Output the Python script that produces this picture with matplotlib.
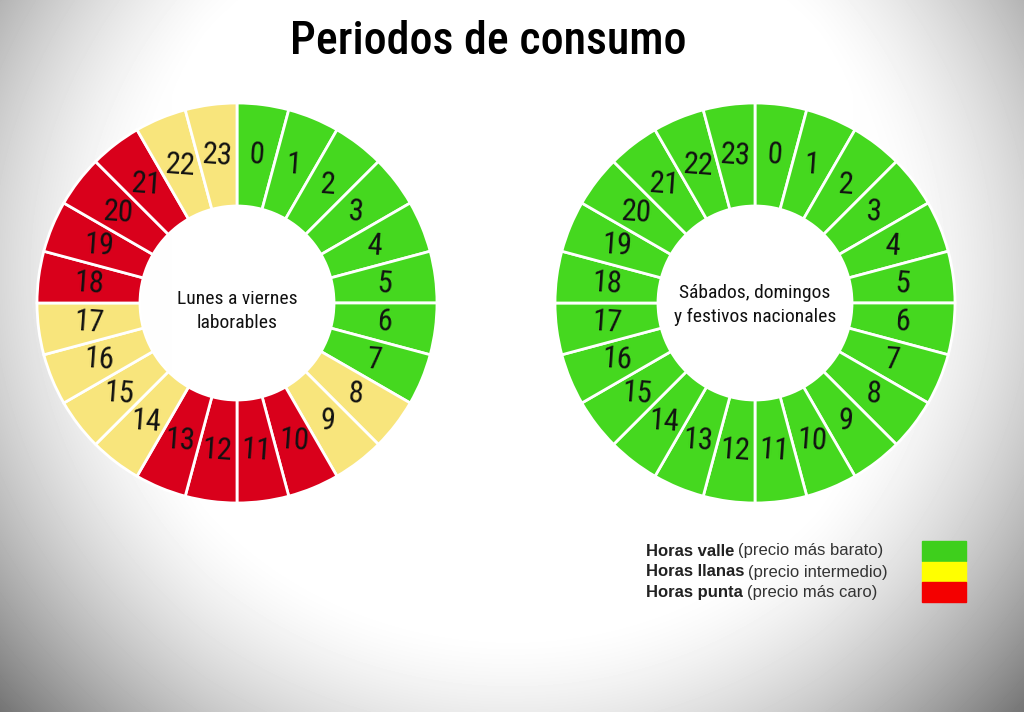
import numpy as np
import matplotlib.pyplot as plt

# franjas horarias (0..23)
horas = [str(h) for h in range(24)]
periodo_laborable = (["valle"] * 8 + ["llano"] * 2 + ["punta"] * 4 +
                     ["llano"] * 4 + ["punta"] * 4 + ["llano"] * 2)
periodo_finde = ["valle"] * 24

COLORES = {"valle": "#45d81f", "llano": "#f8e57c", "punta": "#d9001b"}
COLORES_LEYENDA = {"valle": "#3ecf1c", "llano": "#ffff00", "punta": "#f40000"}

titulo_centro = ["Lunes a viernes\nlaborables",
                 "Sábados, domingos\ny festivos nacionales"]
leyenda_negrita = ["Horas valle", "Horas llanas", "Horas punta"]
leyenda_normal = ["(precio más barato)", "(precio intermedio)", "(precio más caro)"]
leyenda_clave = ["valle", "llano", "punta"]

ESTRECHA = ["Roboto Condensed", "Roboto", "DejaVu Sans"]

W, H = 1024, 712
fig = plt.figure(figsize=(W / 100, H / 100), dpi=100)

# fondo con viñeta
bg = fig.add_axes([0, 0, 1, 1], zorder=-10)
yy, xx = np.mgrid[0:H, 0:W]
u = (xx - W / 2) / (W / 2)
v = (yy - H * 0.38) / (H / 2)
r = np.sqrt(u ** 2 + (v * 0.75) ** 2)
oscuro = np.clip((r - 0.76) / 0.75, 0, 1) ** 1.5
gris = 1 - 0.72 * oscuro - 0.06 * np.clip(np.abs(u) - 0.6, 0, 1)
bg.imshow(gris, cmap="gray", vmin=0, vmax=1, extent=[0, W, H, 0], aspect="auto")
bg.set_xlim(0, W)
bg.set_ylim(H, 0)
bg.axis("off")


def donut(cx, cy, periodos, texto, dy):
    R = 200
    ax = fig.add_axes([(cx - R) / W, (H - cy - R) / H, 2 * R / W, 2 * R / H])
    wedges, labels = ax.pie(
        [1] * 24, labels=horas, colors=[COLORES[p] for p in periodos],
        startangle=90, counterclock=False, radius=1, labeldistance=0.745,
        wedgeprops=dict(width=0.515, edgecolor="white", linewidth=2),
    )
    for t in labels:
        t.set_ha("center")
        t.set_va("center")
        t.set_rotation(-4)
        t.set_fontsize(22)
        t.set_fontfamily(ESTRECHA)
        t.set_color("#111111")
    ax.text(0, dy, texto, ha="center", va="center", fontsize=14,
            linespacing=1.4, family=ESTRECHA, color="#111111")
    ax.set_xlim(-1, 1)
    ax.set_ylim(-1, 1)
    ax.axis("off")


donut(237, 303, periodo_laborable, titulo_centro[0], -0.04)
donut(755, 303, periodo_finde, titulo_centro[1], -0.01)

fig.text(488 / W, 1 - 41 / H, "Periodos de consumo", ha="center", va="center",
         fontsize=33, fontweight="medium", family=ESTRECHA, color="black")

# leyenda
renderer = fig.canvas.get_renderer()
filas_y = [551, 572, 592]
for i, y in enumerate(filas_y):
    tb = fig.text(646 / W, 1 - y / H, leyenda_negrita[i], ha="left", va="center",
                  fontsize=12, fontweight="bold", family="Liberation Sans",
                  color="#222222")
    ext = tb.get_window_extent(renderer)
    fig.text((ext.x1 + 4) / W, 1 - y / H, leyenda_normal[i], ha="left",
             va="center", fontsize=12, family="Liberation Sans", color="#333333")
    fig.patches.append(plt.Rectangle((922 / W, 1 - (y + 10) / H), 44 / W, 20 / H,
                                     transform=fig.transFigure,
                                     color=COLORES_LEYENDA[leyenda_clave[i]]))

fig.savefig("out.png", dpi=100)
